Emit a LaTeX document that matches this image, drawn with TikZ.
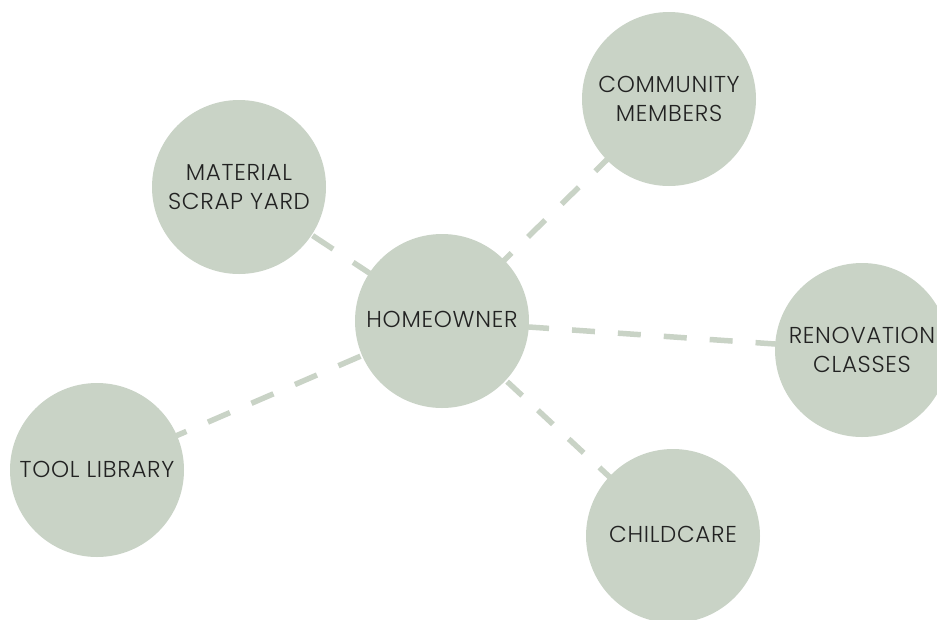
\documentclass[tikz,border=0pt]{standalone}
\usepackage{fontspec}
\usetikzlibrary{backgrounds}
\setmainfont{Poppins}[UprightFont={* Light},LetterSpace=3]
\definecolor{sage}{HTML}{C9D3C6}
\definecolor{ink}{HTML}{222222}
\begin{document}
\begin{tikzpicture}[x=1pt,y=-1pt,
  bubble/.style={circle,fill=sage,draw=none,minimum size=174pt,inner sep=0pt,
    align=center,text=ink,font=\fontsize{23}{29}\selectfont},
  link/.style={draw=sage,line width=5.5pt}]
\useasboundingbox (0,0) rectangle (937,619);
\node[bubble] (home) at (442,321) {\raisebox{2.5pt}{HOMEOWNER}};
\node[bubble] (scrap) at (239,187) {MATERIAL\\SCRAP YARD};
\node[bubble] (comm) at (669,99) {COMMUNITY\\MEMBERS};
\node[bubble] (reno) at (862,350) {RENOVATION\\CLASSES};
\node[bubble] (child) at (673,536) {\raisebox{2.5pt}{CHILDCARE}};
\node[bubble] (tool) at (97,470) {\raisebox{2pt}{TOOL LIBRARY}};
\begin{scope}[on background layer]
\draw[link,dash pattern=on 24.5pt off 24pt,dash phase=15pt] (home.center) -- (scrap.center);
\draw[link,dash pattern=on 24pt off 23pt,dash phase=20.7pt] (home.center) -- (comm.center);
\draw[link,dash pattern=on 23pt off 23pt,dash phase=7.7pt] (home.center) -- (reno.center);
\draw[link,dash pattern=on 20.5pt off 21.5pt,dash phase=37pt] (home.center) -- (child.center);
\draw[link,dash pattern=on 24pt off 23.4pt,dash phase=6pt] (home.center) -- (tool.center);
\end{scope}
\end{tikzpicture}
\end{document}
